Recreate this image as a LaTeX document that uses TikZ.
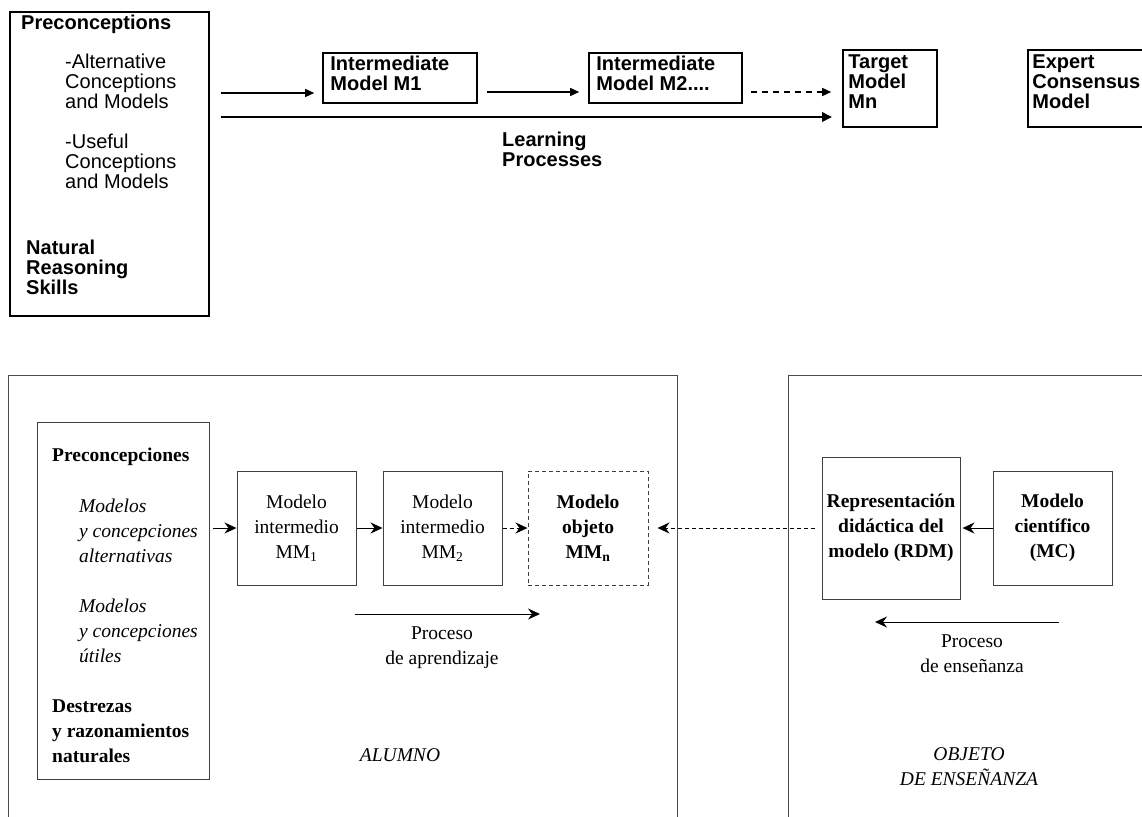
\documentclass[tikz,border=0pt]{standalone}
\usepackage{fontspec}
\setmainfont{Liberation Serif}
\newfontfamily\arialfont{Liberation Sans}
\usetikzlibrary{arrows.meta,calc}
\begin{document}
\begin{tikzpicture}[x=1pt,y=-1pt,
  sf/.style={font=\arialfont\fontsize{20}{20}\selectfont, inner sep=0pt},
  sfb/.style={font=\arialfont\bfseries\fontsize{20}{20}\selectfont, inner sep=0pt},
  tbox/.style={draw=black, line width=1.6pt, inner sep=0pt},
  tarr/.style={line width=1.4pt, -{Triangle[length=9pt,width=8pt]}},
  rm/.style={font=\fontsize{19.5}{25}\selectfont, inner sep=0pt},
  rmb/.style={font=\bfseries\fontsize{19.5}{25}\selectfont, inner sep=0pt},
  rmi/.style={font=\itshape\fontsize{19.5}{25}\selectfont, inner sep=0pt},
  bbox/.style={draw=black!75, line width=1pt, inner sep=0pt, align=center},
  frame/.style={draw=black!70, line width=1pt, inner sep=0pt},
  barr/.style={line width=1pt, -{Stealth[length=12pt,width=11pt,inset=4pt]}},
  dsh/.style={dash pattern=on 4pt off 3pt}]
\useasboundingbox (0,0) rectangle (1142,816);
\clip (0,0) rectangle (1142,816);

% ---------- upper scheme ----------
\node[tbox, minimum width=199pt, minimum height=304pt] (pre) at (109.5,164) {};
\node[sfb, anchor=west] (preT) at (21,24) {Preconceptions};
\node[sf, anchor=west, align=left] (alt) at (65,81) {-Alternative\\Conceptions\\and Models};
\node[sf, anchor=west, align=left] (use) at (65,161) {-Useful\\Conceptions\\and Models};
\node[sfb, anchor=west, align=left] (nat) at (26,267) {Natural\\Reasoning\\Skills};

\node[tbox, minimum width=154pt, minimum height=50pt] (m1) at (400,78) {};
\node[sfb, anchor=north west, align=left] (m1T) at ($(m1.north west)+(8,4)$) {Intermediate\\Model M1};
\node[tbox, minimum width=153pt, minimum height=50pt] (m2) at (665.5,78) {};
\node[sfb, anchor=north west, align=left] (m2T) at ($(m2.north west)+(8,4)$) {Intermediate\\Model M2....};
\node[tbox, minimum width=94pt, minimum height=77pt] (tgt) at (890,88.5) {};
\node[sfb, anchor=north west, align=left] (tgtT) at ($(tgt.north west)+(6,5)$) {Target\\Model\\Mn};
\node[tbox, minimum width=130pt, minimum height=77pt] (exp) at (1093,88.5) {};
\node[sfb, anchor=north west, align=left] (expT) at ($(exp.north west)+(5,5)$) {Expert\\Consensus\\Model};

\coordinate (y1) at (0,93);
\coordinate (y2) at (0,92);
\coordinate (y3) at (0,117);
\draw[tarr, shorten <=11pt, shorten >=8pt] (pre.east |- y1) -- (m1.west |- y1);
\draw[tarr, shorten <=9pt, shorten >=9pt] (m1.east |- y2) -- (m2.west |- y2);
\draw[tarr, dash pattern=on 6pt off 5pt, shorten <=8pt, shorten >=11pt] (m2.east |- y2) -- (tgt.west |- y2);
\draw[line width=2.6pt, -{Triangle[length=10pt,width=9pt]}, shorten <=11pt, shorten >=10pt] (pre.east |- y3) -- (tgt.west |- y3);
\node[sfb, anchor=west, align=left] (learn) at (502,149) {Learning\\Processes};

% ---------- lower scheme ----------
\node[frame, minimum width=669pt, minimum height=460pt] (alumno) at (342.5,605) {};
\node[frame, minimum width=380pt, minimum height=460pt] (objeto) at (978,605) {};

\node[bbox, minimum width=172pt, minimum height=357pt] (prec) at (123,600.5) {};
\node[rmb, anchor=west] (precT) at (52,457) {Preconcepciones};
\node[rmi, anchor=west, align=left] (alt2) at (79,531) {Modelos\\y concepciones\\alternativas};
\node[rmi, anchor=west, align=left] (use2) at (79,630.5) {Modelos\\y concepciones\\útiles};
\node[rmb, anchor=west, align=left] (dest) at (52,731) {Destrezas\\y razonamientos\\naturales};

\node[bbox, rm, minimum width=119pt, minimum height=114pt] (mm1) at (296.5,528) {Modelo\\intermedio\\MM\textsubscript{1}};
\node[bbox, rm, minimum width=119pt, minimum height=114pt] (mm2) at (442.5,528) {Modelo\\intermedio\\MM\textsubscript{2}};
\node[bbox, rmb, dsh, minimum width=120pt, minimum height=114pt] (mmn) at (588,528) {Modelo\\objeto\\MM\textsubscript{n}};
\node[bbox, rmb, minimum width=138pt, minimum height=142pt] (rdm) at (891,528) {Representación\\didáctica del\\modelo (RDM)};
\node[bbox, rmb, minimum width=119pt, minimum height=114pt] (mc) at (1052.5,528) {Modelo\\científico\\(MC)};

\draw[barr, shorten <=3pt] (prec.east |- mm1.west) -- (mm1.west);
\draw[barr] (mm1.east) -- (mm2.west);
\draw[barr, dsh] (mm2.east) -- (mmn.west);
\draw[barr, dsh, shorten <=7pt, shorten >=9pt] (rdm.west |- mmn.east) -- (mmn.east);
\draw[barr, shorten >=2pt] (mc.west) -- (rdm.east |- mc.west);

\coordinate (la) at (355,614);
\coordinate (lb) at (540,614);
\draw[barr] (la) -- (lb);
\node[rm, align=center] (apr) at (442,648) {Proceso\\de aprendizaje};
\coordinate (ta) at (1059,622);
\coordinate (tb) at (875,622);
\draw[barr] (ta) -- (tb);
\node[rm, align=center] (ens) at (972,654) {Proceso\\de enseñanza};

\node[rmi] (alu) at (400,755) {ALUMNO};
\node[rmi, align=center] (obj) at (969,767) {OBJETO\\DE ENSEÑANZA};
\end{tikzpicture}
\end{document}
